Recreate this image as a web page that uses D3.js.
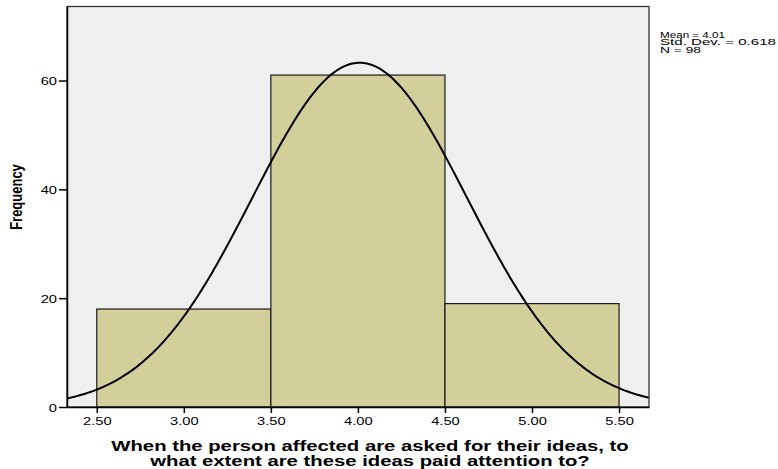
<!DOCTYPE html>
<html>
<head>
<meta charset="utf-8">
<script src="https://cdn.jsdelivr.net/npm/d3@7"></script>
<style>
  html, body { margin: 0; padding: 0; background: #ffffff; }
  svg { display: block; }
  text { font-family: "Liberation Sans", Arial, sans-serif; fill: #000; }
</style>
</head>
<body>
<svg id="chart" width="778" height="469"></svg>
<script>
// Histogram bins (lower edge, upper edge) and their counts
const binStarts = [2.5, 3.5, 4.5];
const binEnds = [3.5, 4.5, 5.5];
const counts = [18, 61, 19];

// Summary statistics shown beside the plot
const statLabels = ["Mean = 4.01", "Std. Dev. = 0.618", "N = 98"];
const mean = 4.01;
const stdDev = 0.618;
const nCases = 98;

// Axis ticks and titles
const xTicks = [2.5, 3.0, 3.5, 4.0, 4.5, 5.0, 5.5];
const yTicks = [0, 20, 40, 60];
const xTitleLines = [
  "When the person affected are asked for their ideas, to",
  "what extent are these ideas paid attention to?"
];
const yTitle = "Frequency";

const svg = d3.select("#chart");

const plot = { left: 67, right: 649, top: 6.5, bottom: 407 };

const x = d3.scaleLinear().domain([2.329, 5.672]).range([plot.left, plot.right]);
const y = d3.scaleLinear().domain([0, 73.6]).range([plot.bottom, plot.top]);

// Plot background
svg.append("rect")
  .attr("x", plot.left).attr("y", plot.top)
  .attr("width", plot.right - plot.left).attr("height", plot.bottom - plot.top)
  .attr("fill", "#efefef");

// Bars
const bins = counts.map((c, i) => ({ x0: binStarts[i], x1: binEnds[i], n: c }));
svg.append("g").selectAll("rect").data(bins).join("rect")
  .attr("x", d => x(d.x0))
  .attr("y", d => y(d.n))
  .attr("width", d => x(d.x1) - x(d.x0))
  .attr("height", d => y(0) - y(d.n))
  .attr("fill", "#d3cf9b")
  .attr("stroke", "#1a1a1a")
  .attr("stroke-width", 1.2);

// Fitted normal curve: N * bin width * density
const binWidth = binEnds[0] - binStarts[0];
const density = v => Math.exp(-0.5 * ((v - mean) / stdDev) ** 2) / (stdDev * Math.sqrt(2 * Math.PI));
const xs = d3.range(0, 301).map(i => x.domain()[0] + (x.domain()[1] - x.domain()[0]) * i / 300);
svg.append("path")
  .datum(xs)
  .attr("fill", "none")
  .attr("stroke", "#000")
  .attr("stroke-width", 2)
  .attr("d", d3.line().x(v => x(v)).y(v => y(nCases * binWidth * density(v))).curve(d3.curveBasis));

// Plot frame
svg.append("rect")
  .attr("x", plot.left).attr("y", plot.top)
  .attr("width", plot.right - plot.left).attr("height", plot.bottom - plot.top)
  .attr("fill", "none")
  .attr("stroke", "#333")
  .attr("stroke-width", 1.3);

const tickStretch = 1.28;

// X axis
const xAxis = svg.append("g")
  .attr("transform", `translate(0,${plot.bottom})`)
  .call(d3.axisBottom(x).tickValues(xTicks).tickFormat(d3.format(".2f")).tickSize(6).tickSizeOuter(0));
xAxis.select(".domain").attr("stroke", "#000").attr("stroke-width", 1.5);
xAxis.selectAll(".tick line").attr("stroke", "#000").attr("stroke-width", 1.5);
xAxis.selectAll(".tick text")
  .attr("y", 18).attr("dy", 0)
  .attr("transform", `scale(${tickStretch},1)`)
  .style("font-size", "11.5px")
  .attr("font-family", null);

// Y axis
const yAxis = svg.append("g")
  .attr("transform", `translate(${plot.left},0)`)
  .call(d3.axisLeft(y).tickValues(yTicks).tickFormat(d3.format("d")).tickSize(8).tickSizeOuter(0));
yAxis.select(".domain").attr("stroke", "#000").attr("stroke-width", 1.5);
yAxis.selectAll(".tick line").attr("stroke", "#000").attr("stroke-width", 1.5);
yAxis.selectAll(".tick text")
  .attr("x", -10 / tickStretch).attr("dy", "0.36em")
  .attr("transform", `scale(${tickStretch},1)`)
  .style("font-size", "11.5px")
  .attr("font-family", null);

// Y axis title
svg.append("g")
  .attr("transform", "translate(22,197) scale(1.33,1) rotate(-90)")
  .append("text")
  .attr("text-anchor", "middle")
  .style("font-size", "13px")
  .style("font-weight", "bold")
  .text(yTitle);

// X axis title
const xTitleBaselines = [451, 466];
xTitleLines.forEach((line, i) => {
  svg.append("g")
    .attr("transform", `translate(370,${xTitleBaselines[i]}) scale(1.45,1)`)
    .append("text")
    .attr("text-anchor", "middle")
    .style("font-size", "14px")
    .style("font-weight", "bold")
    .text(line);
});

// Statistics block, set tight and stretched to its column width
const statWidths = [65, 116, 41];
statLabels.forEach((s, i) => {
  svg.append("text")
    .attr("x", 660)
    .attr("y", 37.7 + i * 7.7)
    .attr("textLength", statWidths[i])
    .attr("lengthAdjust", "spacingAndGlyphs")
    .style("font-size", "9.3px")
    .text(s);
});
</script>
</body>
</html>
